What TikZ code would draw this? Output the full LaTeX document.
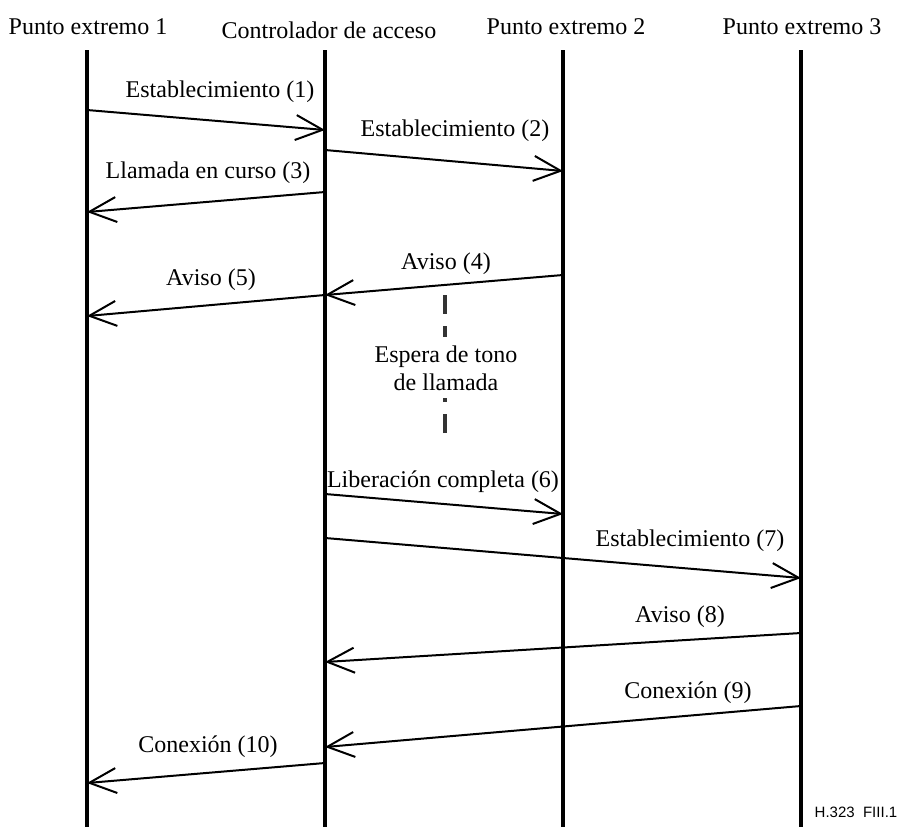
\documentclass[tikz,border=0pt]{standalone}
\usepackage{fontspec}
\setmainfont{Liberation Serif}
\newfontfamily\footfont{Liberation Sans}
\usetikzlibrary{arrows.meta}
\tikzset{
  lifeline/.style={line width=1.6pt},
  msg/.style={line width=1pt,-{Straight Barb[length=13.5pt,width=12.5pt]}},
  lbl/.style={inner sep=0pt,font=\fontsize{12}{14}\selectfont},
  head/.style={inner sep=0pt,font=\fontsize{12}{14}\selectfont},
  waitline/.style={line width=2pt,draw=black!80,dash pattern=on 9.5pt off 6pt},
}
\begin{document}
\begin{tikzpicture}[x=0.5pt,y=-0.5pt]
\useasboundingbox (0,0) rectangle (902,827);
% headers
\node[head] (h1) at (88,27) {Punto extremo 1};
\node[head] (h2) at (329,30) {Controlador de acceso};
\node[head] (h3) at (566,27) {Punto extremo 2};
\node[head] (h4) at (802,27) {Punto extremo 3};
% lifelines
\coordinate (l1t) at (87,50);  \coordinate (l1b) at (87,827);
\coordinate (l2t) at (325,50); \coordinate (l2b) at (325,827);
\coordinate (l3t) at (563,50); \coordinate (l3b) at (563,827);
\coordinate (l4t) at (801,50); \coordinate (l4b) at (801,827);
\draw[lifeline] (l1t) -- (l1b);
\draw[lifeline] (l2t) -- (l2b);
\draw[lifeline] (l3t) -- (l3b);
\draw[lifeline] (l4t) -- (l4b);
% message end points
\coordinate (m1s) at (87,110);  \coordinate (m1e) at (325,130);
\coordinate (m2s) at (325,150); \coordinate (m2e) at (563,171);
\coordinate (m3s) at (325,192); \coordinate (m3e) at (87,212);
\coordinate (m4s) at (563,275); \coordinate (m4e) at (325,295);
\coordinate (m5s) at (325,295); \coordinate (m5e) at (87,316);
\coordinate (m6s) at (325,494); \coordinate (m6e) at (563,514);
\coordinate (m7s) at (325,538); \coordinate (m7e) at (801,578);
\coordinate (m8s) at (801,633); \coordinate (m8e) at (325,662);
\coordinate (m9s) at (801,706); \coordinate (m9e) at (325,747);
\coordinate (m10s) at (325,763); \coordinate (m10e) at (87,783);
% messages
\draw[msg] (m1s) -- (m1e);
\draw[msg] (m2s) -- (m2e);
\draw[msg] (m3s) -- (m3e);
\draw[msg] (m4s) -- (m4e);
\draw[msg] (m5s) -- (m5e);
\draw[msg] (m6s) -- (m6e);
\draw[msg] (m7s) -- (m7e);
\draw[msg] (m8s) -- (m8e);
\draw[msg] (m9s) -- (m9e);
\draw[msg] (m10s) -- (m10e);
% labels
\node[lbl] (t1) at (220,92) {Establecimiento (1)};
\node[lbl] (t2) at (455,131) {Establecimiento (2)};
\node[lbl] (t3) at (208,173) {Llamada en curso (3)};
\node[lbl] (t4) at (446,264) {Aviso (4)};
\node[lbl] (t5) at (211,280) {Aviso (5)};
\node[lbl] (t6) at (443,482) {Liberación completa (6)};
\node[lbl] (t7) at (690,541) {Establecimiento (7)};
\node[lbl] (t8) at (680,617) {Aviso (8)};
\node[lbl] (t9) at (688,693) {Conexión (9)};
\node[lbl] (t10) at (208,747) {Conexión (10)};
% waiting period
\coordinate (wtop) at (445,295); \coordinate (wmid1) at (445,337);
\coordinate (wmid2) at (445,398); \coordinate (wbot) at (445,433);
\draw[waitline] (wtop) -- (wmid1);
\draw[waitline,dash pattern=on 9.5pt off 6pt] (wbot) -- (wmid2);
\node[lbl,align=center] (espera) at (446,368) {Espera de tono\\de llamada};
% figure id
\node[inner sep=0pt,font=\footfont\fontsize{7.5}{9}\selectfont] (fig) at (856,812) {H.323\ \ FIII.1};
\end{tikzpicture}
\end{document}
